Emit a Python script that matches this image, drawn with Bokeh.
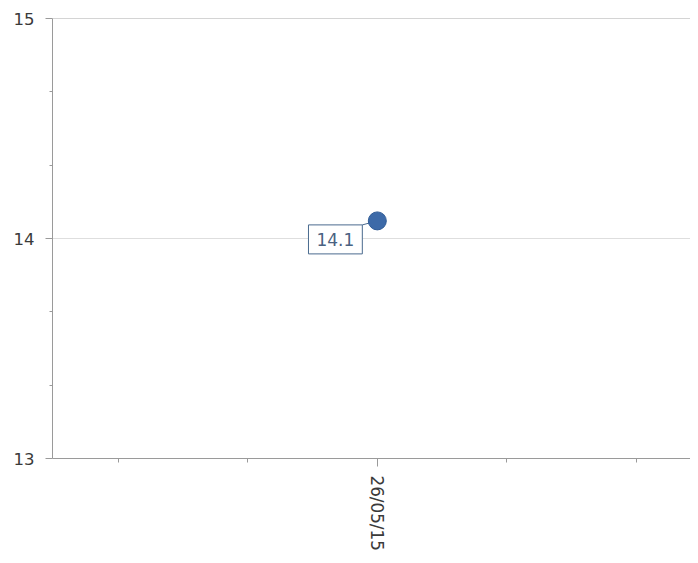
from bokeh.plotting import figure
from bokeh.models import Range1d, FixedTicker, Label, Span, ColumnDataSource
from bokeh.embed import file_html
from bokeh.resources import INLINE

# ---- data ----
dates = ["26/05/15"]
values = [14.08]
y_ticks = [13, 14, 15]
x_minor = [-2, -1, 1, 2]

FONT = "DejaVu Sans"
W, H = 690, 555
BL, BR, BT, BB = 52, 0, 18, 97
y_lo, y_hi = y_ticks[0], y_ticks[-1]
x_lo, x_hi = -2.51, 2.42

p = figure(width=W, height=H, output_backend="svg", toolbar_location=None,
           x_range=Range1d(x_lo, x_hi), y_range=Range1d(y_lo, y_hi),
           min_border_left=BL, min_border_right=BR, min_border_top=BT, min_border_bottom=BB)
p.outline_line_color = None
p.background_fill_color = "white"
p.xgrid.grid_line_color = None
p.ygrid.grid_line_color = "#dedede"

# minor y ticks at thirds
minor_y = []
for a, b in zip(y_ticks[:-1], y_ticks[1:]):
    minor_y += [a + (b - a) / 3, a + 2 * (b - a) / 3]
p.yaxis.ticker = FixedTicker(ticks=y_ticks, minor_ticks=minor_y)
p.ygrid.ticker = FixedTicker(ticks=y_ticks)
xs = list(range(len(dates)))
p.xaxis.ticker = FixedTicker(ticks=xs, minor_ticks=x_minor)
p.xaxis.major_label_overrides = {i: d for i, d in zip(xs, dates)}
p.xaxis.major_label_orientation = -1.5707963

for ax in (p.xaxis[0], p.yaxis[0]):
    ax.axis_line_color = "#9a9a9a"
    ax.major_tick_line_color = "#9a9a9a"
    ax.minor_tick_line_color = "#9a9a9a"
    ax.major_tick_in = 0
    ax.minor_tick_in = 0
    ax.major_label_text_font = FONT
    ax.major_label_text_color = "#3a3a3a"
p.yaxis.major_label_text_font_size = "16.5px"
p.xaxis.major_label_text_font_size = "16.8px"
p.yaxis.major_tick_out = 7
p.yaxis.minor_tick_out = 3
p.yaxis.major_label_standoff = 11
p.xaxis.major_tick_out = 8
p.xaxis.minor_tick_out = 4
p.xaxis.major_label_standoff = 9

p.add_layout(Span(location=y_hi, dimension="width", line_color="#aaaaaa", line_width=1))

# connector from point to label box
frame_w = W - BL - BR
frame_h = H - BT - BB
ux = (x_hi - x_lo) / frame_w
uy = (y_hi - y_lo) / frame_h
for x, v in zip(xs, values):
    p.segment(x0=[x], y0=[v], x1=[x - 15 * ux], y1=[v - 4 * uy], line_color="#4a6a8e", line_width=1)

src = ColumnDataSource(dict(x=xs, y=values))
p.scatter("x", "y", source=src, size=18, fill_color="#3d6aa8", line_color="#2f5b96", line_width=1)

for x, v in zip(xs, values):
    p.add_layout(Label(x=x, y=v, x_offset=-15, y_offset=-4, text=f"{v:.1f}",
                       text_align="right", text_baseline="top", text_font=FONT,
                       text_font_size="17px", text_color="#4a6282",
                       border_line_color="#4a6a8e", border_line_width=1,
                       background_fill_color="white", padding=8))

open("out.html", "w").write(file_html(p, INLINE))
